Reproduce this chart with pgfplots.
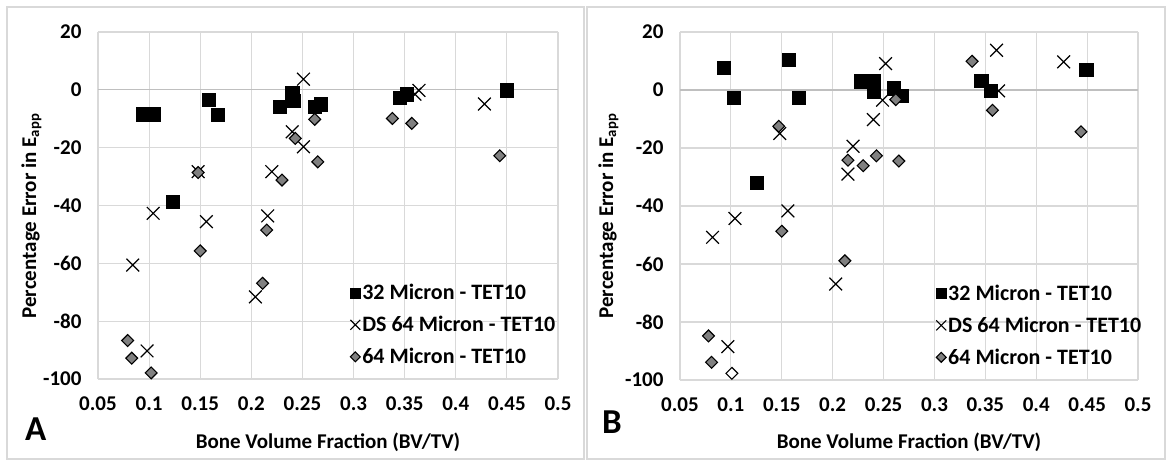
\documentclass[border=0pt]{standalone}
\usepackage{fontspec}
\setmainfont{Carlito}
\usepackage{pgfplots}
\pgfplotsset{compat=1.18}
\definecolor{gridc}{HTML}{D9D9D9}
\definecolor{zeroc}{HTML}{BFBFBF}
\definecolor{dgray}{HTML}{808080}
\newcommand\tfont{\fontsize{21}{25}\selectfont\bfseries}
\newcommand\lfont{\fontsize{22}{26}\selectfont\bfseries}
\pgfplotsset{
 panel/.style={
  scale only axis,
  xmin=0.05,xmax=0.5,ymin=-100,ymax=20,
  xtick={0.05,0.1,0.15,0.2,0.25,0.3,0.35,0.4,0.45,0.5},
  xticklabels={0.05,0.1,0.15,0.2,0.25,0.3,0.35,0.4,0.45,0.5},
  ytick={-100,-80,-60,-40,-20,0,20},
  yticklabels={-100,-80,-60,-40,-20,0,20},
  grid=major, major grid style={gridc, line width=1.2pt},
  axis line style={draw=none},
  major tick length=0pt,
  tick label style={font=\tfont},
  xticklabel style={yshift=-14pt},
  yticklabel style={xshift=-13pt},
  extra y ticks={0}, extra y tick labels={},
  extra y tick style={grid=major, major grid style={zeroc, line width=1.2pt}},
  legend style={draw=none, fill=none, font=\lfont,
    inner sep=0pt, row sep=11pt, cells={anchor=west}},
  legend cell align=left,
  legend image code/.code={\draw[##1] plot coordinates {(0pt,0pt)};},
 },
 sq/.style={only marks, mark=square*, mark size=6.6pt, mark options={fill=black, draw=black},
   legend image post style={mark size=5pt}},
 cr/.style={only marks, mark=x, mark size=9pt, mark options={draw=black, line width=1.2pt},
   legend image post style={mark size=7pt}},
 dm/.style={only marks, mark=square*, mark size=4.2pt, mark options={fill=dgray, draw=black, line width=1.1pt, rotate=45},
   legend image post style={mark size=3.5pt}},
}
\begin{document}
\begin{tikzpicture}
\useasboundingbox (0,0) rectangle (1167pt,461pt);
\draw[gridc, line width=1.3pt] (7pt,2pt) rectangle (584pt,454pt);
\draw[gridc, line width=1.3pt] (587pt,2pt) rectangle (1165pt,454pt);
\begin{axis}[panel, at={(98pt,82pt)}, anchor=south west, width=460pt, height=347pt,
  legend style={at={(axis description cs:0.548,0.156)}, anchor=west}]
\addplot[sq] coordinates {(0.094,-8.4) (0.104,-8.4) (0.123,-38.8) (0.158,-3.5) (0.167,-8.5) (0.228,-5.9) (0.240,-1.0) (0.241,-3.8) (0.262,-5.8) (0.268,-5.0) (0.345,-2.8) (0.352,-1.5) (0.450,-0.1)};
\addlegendentry{32 Micron - TET10}
\addplot[cr] coordinates {(0.251,3.7) (0.240,-14.5) (0.251,-19.7) (0.148,-28.3) (0.220,-28.3) (0.104,-42.7) (0.156,-45.6) (0.216,-43.6) (0.084,-60.6) (0.204,-71.6) (0.098,-90.3) (0.360,-1.5) (0.364,-0.2) (0.428,-4.9)};
\addlegendentry{DS 64 Micron - TET10}
\addplot[dm] coordinates {(0.262,-10.2) (0.243,-16.8) (0.265,-24.9) (0.148,-28.6) (0.230,-31.2) (0.215,-48.5) (0.338,-9.9) (0.357,-11.6) (0.443,-22.8) (0.150,-55.7) (0.211,-66.9) (0.079,-86.7) (0.083,-92.8) (0.102,-97.9)};
\addlegendentry{64 Micron - TET10}
\end{axis}
\begin{axis}[panel, at={(680pt,81pt)}, anchor=south west, width=458pt, height=348pt,
  legend style={at={(axis description cs:0.559,0.157)}, anchor=west}]
\addplot[sq] coordinates {(0.093,7.6) (0.103,-2.7) (0.157,10.5) (0.167,-2.6) (0.125,-32.0) (0.228,3.0) (0.240,3.0) (0.240,-0.7) (0.260,0.6) (0.268,-2.0) (0.346,3.3) (0.355,-0.2) (0.449,7.0)};
\addlegendentry{32 Micron - TET10}
\addplot[cr] coordinates {(0.252,9.1) (0.249,-3.5) (0.240,-10.2) (0.220,-19.4) (0.215,-29.0) (0.148,-15.0) (0.156,-41.7) (0.104,-44.3) (0.082,-50.8) (0.203,-66.9) (0.097,-88.5) (0.361,13.7) (0.363,-0.3) (0.427,9.7)};
\addlegendentry{DS 64 Micron - TET10}
\addplot[dm] coordinates {(0.147,-12.5) (0.150,-48.7) (0.215,-24.2) (0.230,-26.1) (0.243,-22.7) (0.265,-24.5) (0.262,-3.3) (0.337,9.9) (0.357,-7.0) (0.444,-14.4) (0.212,-58.9) (0.078,-84.8) (0.081,-93.9)};
\addlegendentry{64 Micron - TET10}
\addplot[only marks, mark=square*, mark size=4.2pt, mark options={fill=white, draw=black, line width=1.1pt, rotate=45}, forget plot] coordinates {(0.101,-97.7)};
\end{axis}
\node[anchor=base, font=\tfont, inner sep=0pt] at (328pt,13pt) {Bone Volume Fraction (BV/TV)};
\node[anchor=base, font=\tfont, inner sep=0pt] at (909pt,13pt) {Bone Volume Fraction (BV/TV)};
\node[anchor=base, rotate=90, font=\tfont, inner sep=0pt] at (36pt,245pt) {Percentage Error in E\textsubscript{app}};
\node[anchor=base, rotate=90, font=\tfont, inner sep=0pt] at (613pt,245pt) {Percentage Error in E\textsubscript{app}};
\node[anchor=base west, font=\fontsize{35}{40}\selectfont\bfseries, inner sep=0pt] at (25pt,21pt) {A};
\node[anchor=base west, font=\fontsize{35}{40}\selectfont\bfseries, inner sep=0pt] at (602pt,28pt) {B};
\end{tikzpicture}
\end{document}
